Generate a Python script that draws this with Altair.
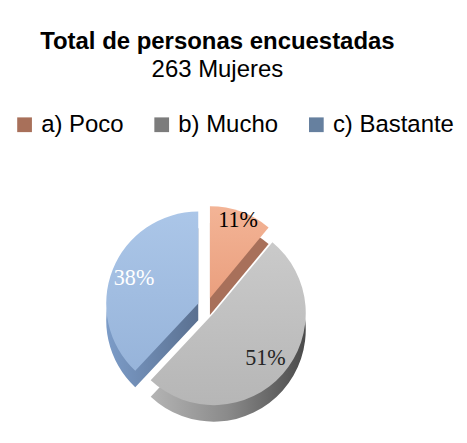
import altair as alt
import pandas as pd

# ---- data ----
categories = ["a) Poco", "b) Mucho", "c) Bastante"]
values = [11, 51, 38]
label_texts = ["11%", "51%", "38%"]

# ---- styles ----
top_colors = ["#F0AC8C", "#C3C3C3", "#A3BFE3"]
side_colors = ["#A8705A", "#7C7C7C", "#66809F"]
text_colors = ["#000000", "#262626", "#FFFFFF"]

R = 100        # pie radius (px)
DEPTH = 18     # 3D thickness (px)
EXPLODE = 10   # explode distance (px)
W, H = 441, 365
CX, CY = 209, 241  # pie centre inside the plot area


def grad(c_from, c_to, horizontal=True, mid=None):
    stops = [{"offset": 0, "color": c_from}]
    if mid:
        stops.append({"offset": 0.5, "color": mid})
    stops.append({"offset": 1, "color": c_to})
    return {
        "gradient": "linear", "x1": 0, "y1": 0,
        "x2": 1 if horizontal else 0, "y2": 0 if horizontal else 1,
        "stops": stops,
    }


def is_cat(i):
    return f"datum.cat === '{categories[i]}'"


side_conditions = [
    {"test": is_cat(1), "value": grad("#B4B4B4", "#4A4A4A", mid="#8A8A8A")},
    {"test": is_cat(2), "value": grad("#7C9CC8", "#5A7090")},
]
top_conditions = [
    {"test": is_cat(0), "value": grad("#F3B496", "#EA9F7E", horizontal=False)},
    {"test": is_cat(1), "value": grad("#CACACA", "#B6B6B6", horizontal=False)},
    {"test": is_cat(2), "value": grad("#ABC6E8", "#97B4DA", horizontal=False)},
]

df = pd.DataFrame({
    "cat": categories,
    "value": values,
    "label": label_texts,
    "order": list(range(len(categories))),
})

xs = alt.Scale(domain=[-CX, W - CX], nice=False, zero=False)
ys = alt.Scale(domain=[-(H - CY), CY], nice=False, zero=False)

base = (
    alt.Chart(df)
    .transform_joinaggregate(total="sum(value)")
    .transform_window(c1="sum(value)", sort=[alt.SortField("order")], frame=[None, 0])
    .transform_calculate(c0="datum.c1 - datum.value")
    .transform_calculate(t0="2 * PI * datum.c0 / datum.total")
    .transform_calculate(t1="2 * PI * datum.c1 / datum.total")
    .transform_calculate(ang="(datum.t0 + datum.t1) / 2")
    .transform_calculate(ex=f"{EXPLODE} * sin(datum.ang)")
    .transform_calculate(ey=f"{EXPLODE} * cos(datum.ang)")
    .transform_calculate(eyb=f"datum.ey - {DEPTH}")
    .transform_calculate(lr=f"datum.value < 20 ? {0.9 * R} : {0.75 * R}")
)

side = base.mark_arc(radius=R).encode(
    x=alt.X("ex:Q", scale=xs, axis=None, stack=False),
    y=alt.Y("eyb:Q", scale=ys, axis=None, stack=False),
    theta=alt.Theta("t0:Q", scale=None),
    theta2="t1:Q",
    color=alt.Color(
        "cat:N",
        scale=alt.Scale(domain=categories, range=side_colors),
        condition=side_conditions,
        legend=alt.Legend(
            orient="none", legendX=-2, legendY=30, direction="horizontal",
            title=None, symbolType="square", symbolSize=256, symbolStrokeWidth=0,
            labelFont="Liberation Sans", labelFontSize=26, labelColor="black",
            labelOffset=5, columnPadding=28, labelLimit=300,
        ),
    ),
)

top = base.mark_arc(radius=R).encode(
    x=alt.X("ex:Q", scale=xs, axis=None, stack=False),
    y=alt.Y("ey:Q", scale=ys, axis=None, stack=False),
    theta=alt.Theta("t0:Q", scale=None),
    theta2="t1:Q",
    color=alt.Color(
        "cat:N",
        scale=alt.Scale(domain=categories, range=top_colors),
        condition=top_conditions,
        legend=None,
    ),
)

labels = base.mark_text(font="Liberation Serif", fontSize=24, baseline="middle", align="center").encode(
    x=alt.X("ex:Q", scale=xs, axis=None, stack=False),
    y=alt.Y("ey:Q", scale=ys, axis=None, stack=False),
    theta=alt.Theta("ang:Q", scale=None),
    radius=alt.Radius("lr:Q", scale=None),
    text="label:N",
    color=alt.Color("cat:N", scale=alt.Scale(domain=categories, range=text_colors), legend=None),
)

chart = (
    alt.layer(side, top, labels)
    .resolve_scale(color="independent")
    .properties(
        width=W,
        height=H,
        title=alt.TitleParams(
            text="Total de personas encuestadas",
            subtitle="263 Mujeres",
            font="Liberation Sans", fontSize=26, fontWeight="bold", color="black",
            subtitleFont="Liberation Sans", subtitleFontSize=26,
            subtitleFontWeight="normal", subtitleColor="black",
            anchor="middle", subtitlePadding=4, offset=4,
        ),
    )
    .configure_view(stroke=None)
)

chart.save("out.html", embed_options={"renderer": "svg", "actions": False})
